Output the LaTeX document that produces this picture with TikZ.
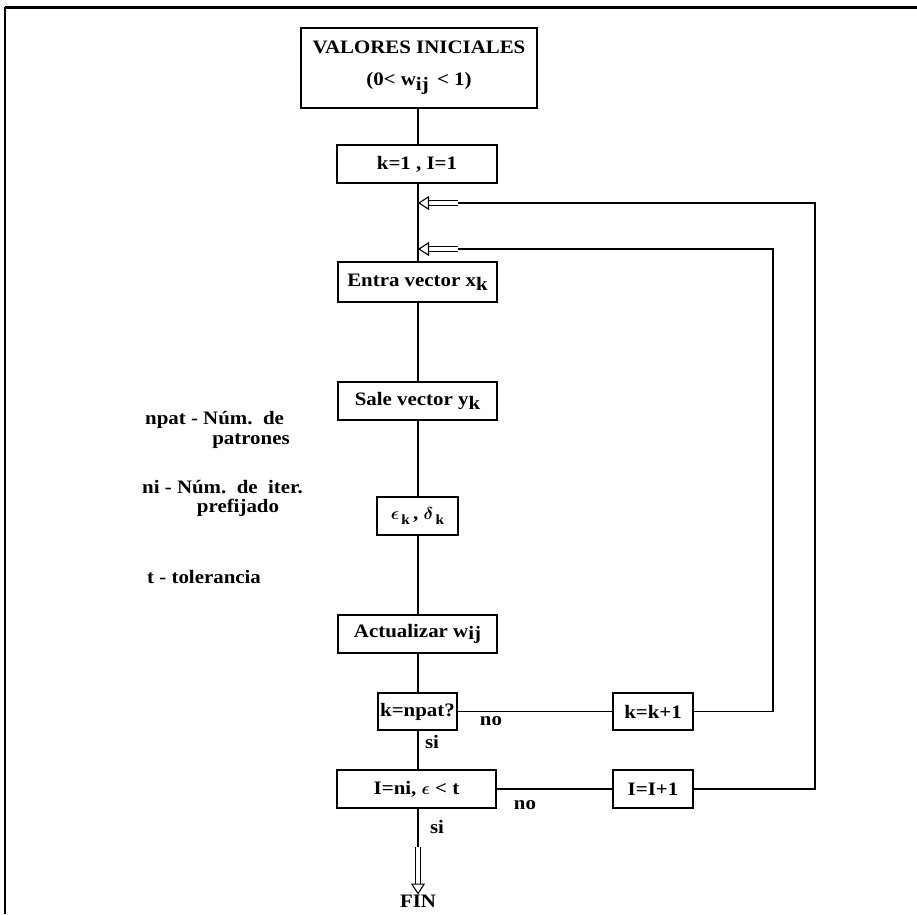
\documentclass[tikz,border=0pt]{standalone}
\usepackage{bm}
\usepackage{fontspec}
\setmainfont{Liberation Serif}[FakeStretch=1.1]
\usetikzlibrary{arrows.meta}
\newcommand\dgfont{\fontsize{19}{22}\selectfont\bfseries}
\newcommand\subfont{\fontsize{14}{14}\selectfont}
\begin{document}
\begin{tikzpicture}[x=1pt,y=-1pt,
  box/.style={draw, line width=1.4pt, inner sep=0pt, font=\dgfont, align=center},
  lbl/.style={inner sep=0pt, font=\dgfont},
  link/.style={line width=1.1pt},
  hollow/.style={line width=1.1pt, double, double distance=3.5pt,
    -{Triangle[open, fill=white, length=11pt, width=14pt, line width=1.1pt]}}]
\useasboundingbox (0,0) rectangle (917,914);
% frame
\draw[line width=3pt] (5,7) -- (917,7);
\draw[line width=2pt] (5,7) -- (5,914);

% main column
\node[box, minimum width=236pt, minimum height=80pt] (vi) at (419,68)
  {VALORES INICIALES\\[10pt] (0< w\raisebox{-0.55ex}{ij} \,< 1)};
\node[box, minimum width=160pt, minimum height=38pt] (k1) at (417,164) {k=1 , I=1};
\node[box, minimum width=159pt, minimum height=40pt] (ex) at (417.5,282)
  {Entra vector x\raisebox{-0.5ex}{k}};
\node[box, minimum width=159pt, minimum height=38pt] (sy) at (417.5,401)
  {Sale vector y\raisebox{-0.5ex}{k}};
\node[box, minimum width=81pt, minimum height=38pt] (ed) at (417.5,516)
  {$\bm{\epsilon}$\raisebox{-0.5ex}{\subfont\,k}\,, $\bm{\delta}$\raisebox{-0.5ex}{\subfont\,k}};
\node[box, minimum width=159pt, minimum height=38pt] (aw) at (417.5,634)
  {Actualizar w\raisebox{-0.3ex}{ij}};
\node[box, minimum width=79pt, minimum height=37pt] (kn) at (417.5,711.5) {k=npat?};
\node[box, minimum width=80pt, minimum height=37pt] (kk) at (653,711.5) {k=k+1};
\node[box, minimum width=159pt, minimum height=38pt] (ii) at (416.5,789) {I=ni, $\bm{\epsilon}$ < t};
\node[box, minimum width=80pt, minimum height=38pt] (ip) at (653,789) {I=I+1};

% side notes
\node[lbl, anchor=west] (n1) at (145,420) {npat - Núm.\ \ de};
\node[lbl] (n2) at (251,441) {patrones};
\node[lbl, anchor=west] (n3) at (142,487) {ni - Núm.\ \ de\ \ iter.};
\node[lbl] (n4) at (238,508) {prefijado};
\node[lbl, anchor=west] (n5) at (147,577) {t - tolerancia};

% labels of the branches
\node[lbl] (no1) at (491,721) {no};
\node[lbl] (si1) at (432,742) {si};
\node[lbl] (no2) at (525,805) {no};
\node[lbl] (si2) at (437,827) {si};
\node[lbl] (fin) at (418,901) {FIN};

% junction points on the main line
\coordinate (j1) at (418,203);
\coordinate (j2) at (418,249);
\coordinate (a1) at (458,203);
\coordinate (a2) at (458,249);
\coordinate (c1) at (815,203);
\coordinate (c2) at (773,249);
\coordinate (d0) at (418,847);

% vertical flow
\draw[link] (vi.south -| j1) -- (k1.north -| j1);
\draw[link] (k1.south -| j1) -- (ex.north -| j1);
\draw[link] (ex.south -| j1) -- (sy.north -| j1);
\draw[link] (sy.south -| j1) -- (ed.north -| j1);
\draw[link] (ed.south -| j1) -- (aw.north -| j1);
\draw[link] (aw.south -| j1) -- (kn.north -| j1);
\draw[link] (kn.south -| j1) -- (ii.north -| j1);
\draw[link] (ii.south -| j1) -- (d0);
\draw[hollow] (d0) -- (fin.north);

% branches
\draw[link] (kn.east) -- (kk.west);
\draw[link] (ii.east) -- (ip.west);
\draw[link] (kk.east) -| (c2) -- (a2);
\draw[link] (ip.east) -| (c1) -- (a1);
\draw[hollow] (a1) -- (j1);
\draw[hollow] (a2) -- (j2);
\end{tikzpicture}
\end{document}
